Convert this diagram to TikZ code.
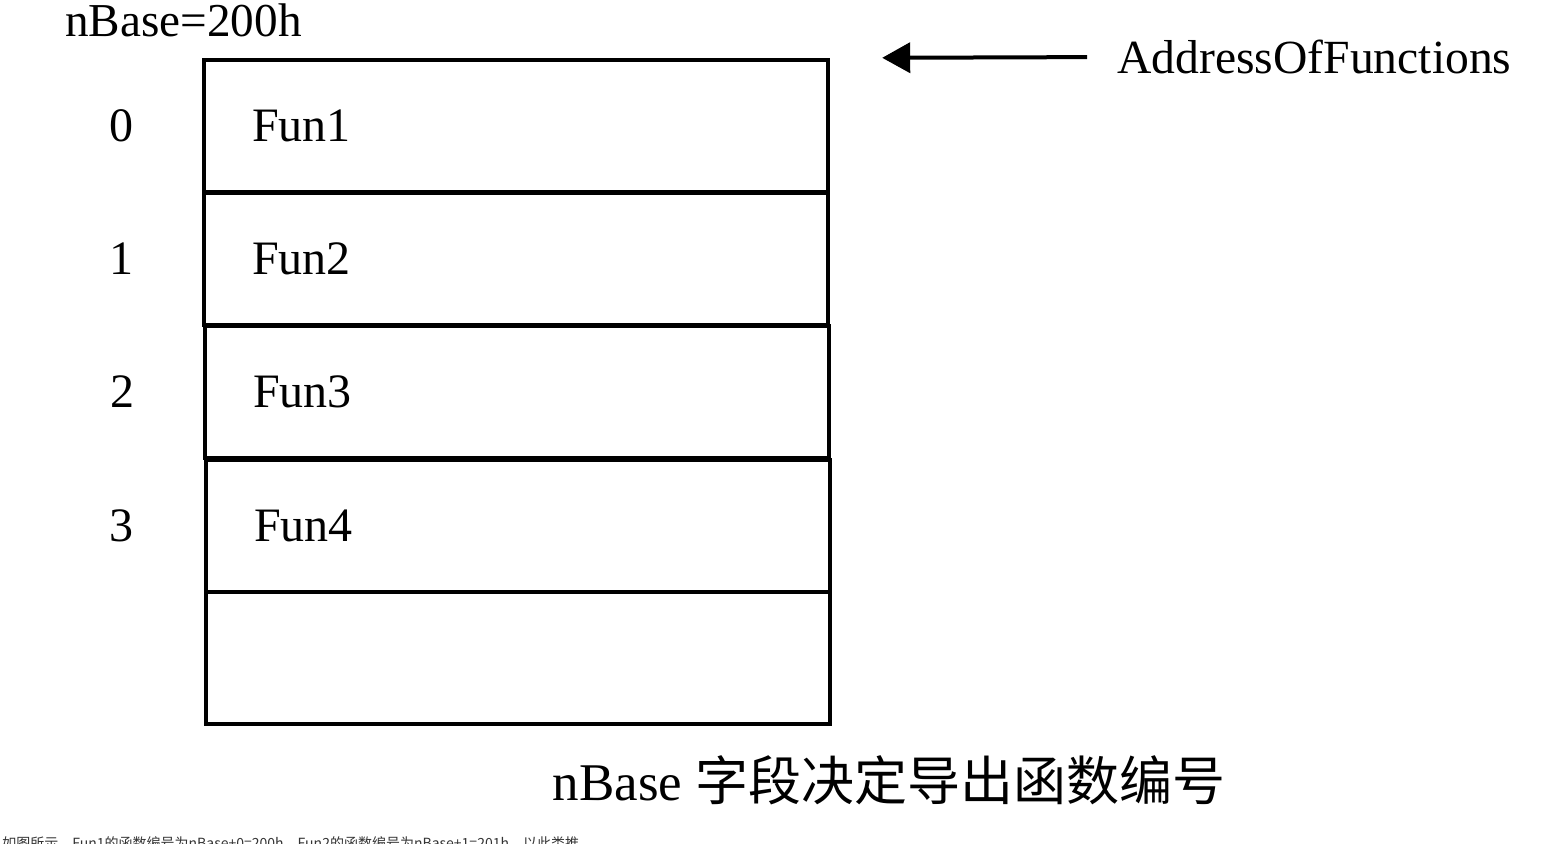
\documentclass[tikz,border=0pt]{standalone}
\usepackage{fontspec}
\setmainfont{Liberation Serif}
\newfontfamily\cjk{Noto Sans CJK SC}
\usetikzlibrary{arrows.meta,positioning}

\tikzset{
  cell/.style={draw, line width=2.2pt, minimum width=312pt, minimum height=66pt, inner sep=0pt},
  funlabel/.style={anchor=west, inner sep=0pt, font=\fontsize{24}{28}\selectfont},
  idx/.style={inner sep=0pt, font=\fontsize{24}{28}\selectfont},
  ptr/.style={-{Triangle[length=14pt,width=15pt]}, line width=2pt},
}

\begin{document}
\begin{tikzpicture}[x=0.5pt,y=-0.5pt]
  \useasboundingbox (0,0) rectangle (1560,843);

  % table of function addresses
  \node (row0) [cell] at (516,126) {};
  \node (row1) [cell] at (516,259) {};
  \node (row2) [cell] at (517,392) {};
  \node (row3) [cell] at (518,526) {};
  \node (row4) [cell] at (518,658) {};

  \node (fun1) [funlabel] at ([xshift=25pt]row0.west) {Fun1};
  \node (fun2) [funlabel] at ([xshift=25pt]row1.west) {Fun2};
  \node (fun3) [funlabel] at ([xshift=25pt]row2.west) {Fun3};
  \node (fun4) [funlabel] at ([xshift=25pt]row3.west) {Fun4};

  % index numbers
  \node (idx0) [idx] at ([xshift=-40pt]row0.west) {0};
  \node (idx1) [idx] at ([xshift=-40pt]row1.west) {1};
  \node (idx2) [idx] at ([xshift=-40pt]row2.west) {2};
  \node (idx3) [idx] at ([xshift=-41pt]row3.west) {3};

  \node (base) [anchor=west, inner sep=0pt, font=\fontsize{23.6}{26}\selectfont] at (65,20) {nBase=200h};

  % pointer
  \node (aof) [anchor=west, inner sep=0pt, font=\fontsize{23.8}{26}\selectfont] at (1117,57) {AddressOfFunctions};
  \coordinate (aoftip) at ([xshift=26pt]row0.north east);
  \draw [ptr, shorten <=15pt] (aof.west) -- (aoftip);

  \node (caption) [inner sep=0pt, font=\fontsize{26.5}{30}\selectfont] at (889,780) {nBase {\cjk 字段决定导出函数编号}};

  \node (note) [anchor=base west, inner sep=0pt, text=black!80, font=\cjk\fontsize{7}{8}\selectfont] at (2,848)
    {如图所示，Fun1的函数编号为nBase+0=200h，Fun2的函数编号为nBase+1=201h，以此类推};
\end{tikzpicture}
\end{document}
